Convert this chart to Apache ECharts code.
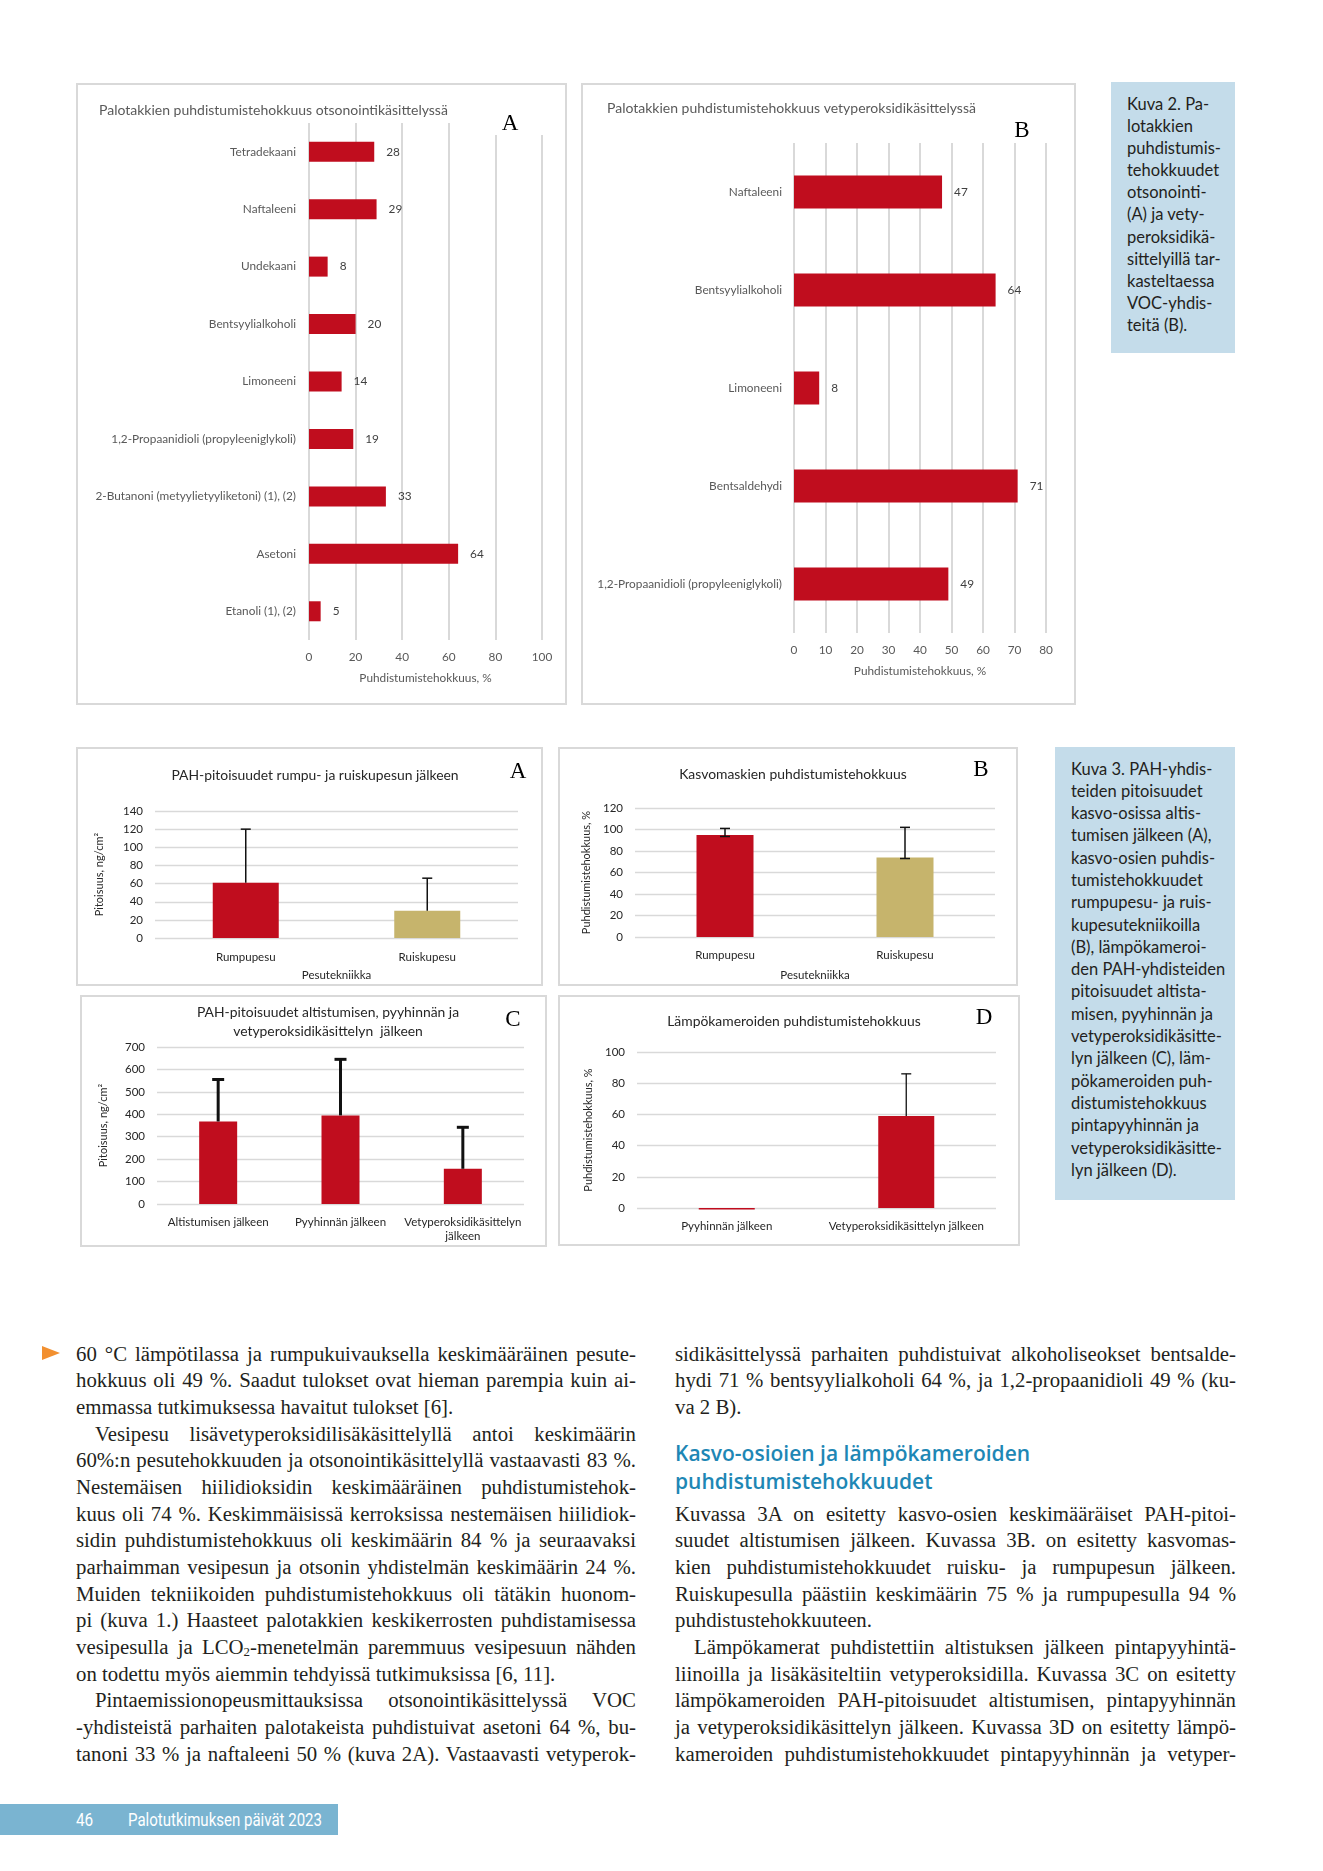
<!DOCTYPE html>
<html>
<head>
<meta charset="utf-8">
<script src="https://cdn.jsdelivr.net/npm/echarts@6/dist/echarts.min.js"></script>
<style>
html,body{margin:0;padding:0;background:#fff;}
#page{position:relative;width:1323px;height:1871px;overflow:hidden;background:#fff;}
.panel{position:absolute;box-sizing:border-box;border:2px solid #d9d9d9;}
.chart{position:absolute;}
.cap{position:absolute;background:#c4dcea;}
.capt{position:absolute;font-family:Lato,'Open Sans',sans-serif;color:#231f20;font-size:16.5px;white-space:nowrap;}
.col{position:absolute;font-family:'Liberation Serif',serif;font-size:20.8px;color:#231f20;line-height:26.67px;}
.col div{height:26.67px;}
.j{text-align:justify;text-align-last:justify;}
.l{text-align:left;text-align-last:left;}
.ind{text-indent:19px;}
.head{position:absolute;font-family:'Open Sans',sans-serif;font-weight:600;font-size:21px;line-height:28px;color:#1e87b5;white-space:nowrap;}
.arrow{position:absolute;width:0;height:0;border-left:18px solid #f29030;border-top:7.5px solid transparent;border-bottom:7.5px solid transparent;}
.foot{position:absolute;left:0;top:1804px;width:338px;height:31px;background:#7ab4d1;}
.foot span{position:absolute;top:0;line-height:31px;color:#fff;font-family:Roboto,sans-serif;font-size:18px;white-space:nowrap;transform-origin:0 50%;}
</style>
</head>
<body>
<div id="page">
  <div class="panel" style="left:76px;top:83px;width:491px;height:622px;"></div>
  <div class="chart" id="c2a" style="left:76px;top:83px;width:491px;height:622px;"></div>
  <div class="panel" style="left:581px;top:83px;width:495px;height:622px;"></div>
  <div class="chart" id="c2b" style="left:581px;top:83px;width:495px;height:622px;"></div>

  <div class="cap" style="left:1111px;top:82px;width:124px;height:271px;"></div>
  <div class="capt" style="left:1127px;top:93px;line-height:22.1px;">Kuva 2. Pa-<br>lotakkien<br>puhdistumis-<br>tehokkuudet<br>otsonointi-<br>(A) ja vety-<br>peroksidikä-<br>sittelyillä tar-<br>kasteltaessa<br>VOC-yhdis-<br>teitä (B).</div>

  <div class="panel" style="left:76px;top:747px;width:467px;height:239px;"></div>
  <div class="chart" id="c3a" style="left:76px;top:747px;width:467px;height:239px;"></div>
  <div class="panel" style="left:558px;top:747px;width:460px;height:239px;"></div>
  <div class="chart" id="c3b" style="left:558px;top:747px;width:460px;height:239px;"></div>
  <div class="panel" style="left:80px;top:995px;width:467px;height:252px;"></div>
  <div class="chart" id="c3c" style="left:80px;top:995px;width:467px;height:252px;"></div>
  <div class="panel" style="left:558px;top:995px;width:462px;height:251px;"></div>
  <div class="chart" id="c3d" style="left:558px;top:995px;width:462px;height:251px;"></div>

  <div class="cap" style="left:1055px;top:747px;width:180px;height:453px;"></div>
  <div class="capt" style="left:1071px;top:757.5px;line-height:22.3px;">Kuva 3. PAH-yhdis-<br>teiden pitoisuudet<br>kasvo-osissa altis-<br>tumisen jälkeen (A),<br>kasvo-osien puhdis-<br>tumistehokkuudet<br>rumpupesu- ja ruis-<br>kupesutekniikoilla<br>(B), lämpökameroi-<br>den PAH-yhdisteiden<br>pitoisuudet altista-<br>misen, pyyhinnän ja<br>vetyperoksidikäsitte-<br>lyn jälkeen (C), läm-<br>pökameroiden puh-<br>distumistehokkuus<br>pintapyyhinnän ja<br>vetyperoksidikäsitte-<br>lyn jälkeen (D).</div>

  <div class="arrow" style="left:42px;top:1346px;"></div>
  <div class="col" style="left:76px;top:1340.7px;width:560px;">
    <div class="j">60 °C lämpötilassa ja rumpukuivauksella keskimääräinen pesute-</div>
    <div class="j">hokkuus oli 49 %. Saadut tulokset ovat hieman parempia kuin ai-</div>
    <div class="l">emmassa tutkimuksessa havaitut tulokset [6].</div>
    <div class="j ind">Vesipesu lisävetyperoksidilisäkäsittelyllä antoi keskimäärin</div>
    <div class="j">60%:n pesutehokkuuden ja otsonointikäsittelyllä vastaavasti 83 %.</div>
    <div class="j">Nestemäisen hiilidioksidin keskimääräinen puhdistumistehok-</div>
    <div class="j">kuus oli 74 %. Keskimmäisissä kerroksissa nestemäisen hiilidiok-</div>
    <div class="j">sidin puhdistumistehokkuus oli keskimäärin 84 % ja seuraavaksi</div>
    <div class="j">parhaimman vesipesun ja otsonin yhdistelmän keskimäärin 24 %.</div>
    <div class="j">Muiden tekniikoiden puhdistumistehokkuus oli tätäkin huonom-</div>
    <div class="j">pi (kuva 1.) Haasteet palotakkien keskikerrosten puhdistamisessa</div>
    <div class="j">vesipesulla ja LCO<span style="font-size:0.62em;vertical-align:-0.12em;">2</span>-menetelmän paremmuus vesipesuun nähden</div>
    <div class="l">on todettu myös aiemmin tehdyissä tutkimuksissa [6, 11].</div>
    <div class="j ind">Pintaemissionopeusmittauksissa otsonointikäsittelyssä VOC</div>
    <div class="j">-yhdisteistä parhaiten palotakeista puhdistuivat asetoni 64 %, bu-</div>
    <div class="j">tanoni 33 % ja naftaleeni 50 % (kuva 2A). Vastaavasti vetyperok-</div>
  </div>

  <div class="col" style="left:675px;top:1340.7px;width:561px;">
    <div class="j">sidikäsittelyssä parhaiten puhdistuivat alkoholiseokset bentsalde-</div>
    <div class="j">hydi 71 % bentsyylialkoholi 64 %, ja 1,2-propaanidioli 49 % (ku-</div>
    <div class="l">va 2 B).</div>
  </div>
  <div class="head" style="left:675px;top:1439px;">Kasvo-osioien ja lämpökameroiden<br>puhdistumistehokkuudet</div>
  <div class="col" style="left:675px;top:1500.7px;width:561px;">
    <div class="j">Kuvassa 3A on esitetty kasvo-osien keskimääräiset PAH-pitoi-</div>
    <div class="j">suudet altistumisen jälkeen. Kuvassa 3B. on esitetty kasvomas-</div>
    <div class="j">kien puhdistumistehokkuudet ruisku- ja rumpupesun jälkeen.</div>
    <div class="j">Ruiskupesulla päästiin keskimäärin 75 % ja rumpupesulla 94 %</div>
    <div class="l">puhdistustehokkuuteen.</div>
    <div class="j ind">Lämpökamerat puhdistettiin altistuksen jälkeen pintapyyhintä-</div>
    <div class="j">liinoilla ja lisäkäsiteltiin vetyperoksidilla. Kuvassa 3C on esitetty</div>
    <div class="j">lämpökameroiden PAH-pitoisuudet altistumisen, pintapyyhinnän</div>
    <div class="j">ja vetyperoksidikäsittelyn jälkeen. Kuvassa 3D on esitetty lämpö-</div>
    <div class="j">kameroiden puhdistumistehokkuudet pintapyyhinnän ja vetyper-</div>
  </div>

  <div class="foot"><span id="f46" style="left:76px;">46</span><span id="fname" style="left:128px;">Palotutkimuksen päivät 2023</span></div>
</div>

<script>
// ---------- DATA ----------
const voc2aCategories = ['Tetradekaani','Naftaleeni','Undekaani','Bentsyylialkoholi','Limoneeni','1,2-Propaanidioli (propyleeniglykoli)','2-Butanoni (metyylietyyliketoni) (1), (2)','Asetoni','Etanoli (1), (2)'];
const voc2aValues = [28, 29, 8, 20, 14, 19, 33, 64, 5];
const voc2aTicks = [0, 20, 40, 60, 80, 100];

const voc2bCategories = ['Naftaleeni','Bentsyylialkoholi','Limoneeni','Bentsaldehydi','1,2-Propaanidioli (propyleeniglykoli)'];
const voc2bValues = [47, 64, 8, 71, 49];
const voc2bTicks = [0, 10, 20, 30, 40, 50, 60, 70, 80];

const pesuCategories = ['Rumpupesu','Ruiskupesu'];
const pah3aValues = [61, 30];
const pah3aErrHigh = [120, 66];
const pah3aTicks = [0, 20, 40, 60, 80, 100, 120, 140];

const mask3bValues = [95, 74];
const mask3bErrLow = [93.5, 73];
const mask3bErrHigh = [101, 102];
const mask3bTicks = [0, 20, 40, 60, 80, 100, 120];

const pah3cCategories = ['Altistumisen jälkeen','Pyyhinnän jälkeen','Vetyperoksidikäsittelyn\njälkeen'];
const pah3cValues = [368, 395, 157];
const pah3cErrHigh = [555, 645, 342];
const pah3cTicks = [0, 100, 200, 300, 400, 500, 600, 700];

const cam3dCategories = ['Pyyhinnän jälkeen','Vetyperoksidikäsittelyn jälkeen'];
const cam3dValues = [-1, 59];
const cam3dErrLow = [null, 59];
const cam3dErrHigh = [null, 86];
const cam3dTicks = [0, 20, 40, 60, 80, 100];

// ---------- STYLE ----------
const RED = '#c00d1e';
const GOLD = '#c6b46c';
const FONT = 'Lato';
const GRID_COLOR = '#d9d9d9';

// footer condensed text width
(function(){
  const el = document.getElementById('fname');
  const w = el.getBoundingClientRect().width;
  if (w > 0) el.style.transform = 'scaleX(' + (194 / w) + ')';
  const e2 = document.getElementById('f46');
  e2.style.transform = 'scaleX(0.85)';
})();

function rng(t){ return {min:t[0], max:t[t.length-1], interval:t[1]-t[0]}; }

function letter(ch, x, y){
  return {type:'text', x:x, y:y, z:101, style:{text:ch, font:'23px "Liberation Serif", serif', fill:'#000', textAlign:'center', textVerticalAlign:'middle'}};
}

function errSeries(lows, highs, cap, lw, bothCaps){
  const data = [];
  for (let i = 0; i < highs.length; i++) if (highs[i] != null) data.push([i, lows[i], highs[i]]);
  return {
    type:'custom', z:5, silent:true,
    encode:{x:0, y:[1,2]},
    data:data,
    renderItem:function(params, api){
      const i = api.value(0);
      const p1 = api.coord([i, api.value(1)]);
      const p2 = api.coord([i, api.value(2)]);
      const st = {stroke:'#111', lineWidth:lw};
      const ch = [
        {type:'line', shape:{x1:p1[0], y1:p1[1], x2:p2[0], y2:p2[1]}, style:st},
        {type:'line', shape:{x1:p2[0]-cap, y1:p2[1], x2:p2[0]+cap, y2:p2[1]}, style:st}
      ];
      if (bothCaps) ch.push({type:'line', shape:{x1:p1[0]-cap, y1:p1[1], x2:p1[0]+cap, y2:p1[1]}, style:st});
      return {type:'group', children:ch};
    }
  };
}

function hbarOption(o){
  const r = rng(o.ticks);
  return {
    animation:false,
    textStyle:{fontFamily:FONT},
    title:{text:o.title, left:o.titleX, top:o.titleY, textStyle:{fontFamily:FONT, fontSize:14, fontWeight:'normal', color:'#595959'}},
    grid:o.grid,
    xAxis:{type:'value', min:r.min, max:r.max, interval:r.interval,
      axisLine:{show:false}, axisTick:{show:false},
      splitLine:{lineStyle:{color:GRID_COLOR, width:2}},
      axisLabel:{color:'#595959', fontSize:11.8, margin:11},
      name:'Puhdistumistehokkuus, %', nameLocation:'middle', nameGap:32,
      nameTextStyle:{color:'#595959', fontSize:11.8}},
    yAxis:{type:'category', inverse:true, data:o.cats,
      axisLine:{show:false}, axisTick:{show:false},
      axisLabel:{color:'#595959', fontSize:11.8, margin:o.labelMargin}},
    series:[{type:'bar', data:o.values, barWidth:o.barWidth, itemStyle:{color:RED},
      label:{show:true, position:'right', distance:12, color:'#404040', fontSize:11.8}}],
    graphic:o.graphic
  };
}

function vbarOption(o){
  const r = rng(o.ticks);
  const series = [{type:'bar', data:o.values.map(function(v,i){ return {value:v, itemStyle:{color:o.colors[i]}}; }),
    barWidth:o.barWidth, clip:false}];
  if (o.err) series.push(o.err);
  const opt = {
    animation:false,
    textStyle:{fontFamily:FONT},
    title:{text:o.title, left:o.titleX, top:o.titleY, textAlign:'center',
      textStyle:{fontFamily:FONT, fontSize:13.9, fontWeight:'normal', color:'#262626', lineHeight:19}},
    grid:o.grid,
    xAxis:{type:'category', data:o.cats, axisLine:{show:false}, axisTick:{show:false},
      axisLabel:{color:'#262626', fontSize:11.5, margin:o.xMargin, lineHeight:14, interval:0}},
    yAxis:{type:'value', min:r.min, max:r.max, interval:r.interval,
      axisLine:{show:false}, axisTick:{show:false},
      splitLine:{lineStyle:{color:GRID_COLOR, width:1.3}},
      axisLabel:{color:'#262626', fontSize:11.5, margin:12},
      name:o.yName, nameLocation:'middle', nameGap:o.yNameGap, nameRotate:90,
      nameTextStyle:{color:'#262626', fontSize:11}},
    series:series,
    graphic:[letter(o.letter, o.letterX, o.letterY)]
  };
  if (o.xName){
    opt.xAxis.name = o.xName; opt.xAxis.nameLocation = 'middle'; opt.xAxis.nameGap = o.xNameGap;
    opt.xAxis.nameTextStyle = {color:'#262626', fontSize:11.5};
  }
  return opt;
}

// ---------- CHARTS ----------
echarts.init(document.getElementById('c2a')).setOption(hbarOption({
  title:'Palotakkien puhdistumistehokkuus otsonointikäsittelyssä', titleX:18, titleY:15,
  grid:{left:233, right:25, top:40, bottom:65},
  ticks:voc2aTicks, cats:voc2aCategories, values:voc2aValues, barWidth:20, labelMargin:13,
  graphic:[
    {type:'rect', z:100, shape:{x:405, y:20, width:75, height:32}, style:{fill:'#fff'}},
    letter('A', 434, 41)
  ]
}));

echarts.init(document.getElementById('c2b')).setOption(hbarOption({
  title:'Palotakkien puhdistumistehokkuus vetyperoksidikäsittelyssä', titleX:21, titleY:13,
  grid:{left:213, right:30, top:60, bottom:72},
  ticks:voc2bTicks, cats:voc2bCategories, values:voc2bValues, barWidth:33, labelMargin:12,
  graphic:[letter('B', 441, 48)]
}));

echarts.init(document.getElementById('c3a')).setOption(vbarOption({
  title:'PAH-pitoisuudet rumpu- ja ruiskupesun jälkeen', titleX:234, titleY:14,
  grid:{left:79, right:25, top:64, bottom:44},
  ticks:pah3aTicks, cats:pesuCategories, values:pah3aValues, colors:[RED, GOLD], barWidth:66,
  xMargin:12, xName:'Pesutekniikka', xNameGap:29,
  yName:'Pitoisuus, ng/cm²', yNameGap:50,
  err:errSeries(pah3aValues, pah3aErrHigh, 5, 1.5, false),
  letter:'A', letterX:442, letterY:25
}));

echarts.init(document.getElementById('c3b')).setOption(vbarOption({
  title:'Kasvomaskien puhdistumistehokkuus', titleX:230, titleY:13,
  grid:{left:77, right:23, top:61, bottom:49},
  ticks:mask3bTicks, cats:pesuCategories, values:mask3bValues, colors:[RED, GOLD], barWidth:57,
  xMargin:11, xName:'Pesutekniikka', xNameGap:32,
  yName:'Puhdistumistehokkuus, %', yNameGap:31,
  err:errSeries(mask3bErrLow, mask3bErrHigh, 5, 1.5, true),
  letter:'B', letterX:423, letterY:23
}));

echarts.init(document.getElementById('c3c')).setOption(vbarOption({
  title:'PAH-pitoisuudet altistumisen, pyyhinnän ja\nvetyperoksidikäsittelyn  jälkeen', titleX:243, titleY:3,
  grid:{left:77, right:23, top:52, bottom:43},
  ticks:pah3cTicks, cats:pah3cCategories, values:pah3cValues, colors:[RED, RED, RED], barWidth:38,
  xMargin:11,
  yName:'Pitoisuus, ng/cm²', yNameGap:48,
  err:errSeries(pah3cValues, pah3cErrHigh, 6, 3, false),
  letter:'C', letterX:433, letterY:25
}));

echarts.init(document.getElementById('c3d')).setOption(vbarOption({
  title:'Lämpökameroiden puhdistumistehokkuus', titleX:231, titleY:12,
  grid:{left:79, right:24, top:57, bottom:38},
  ticks:cam3dTicks, cats:cam3dCategories, values:cam3dValues, colors:[RED, RED], barWidth:56,
  xMargin:11,
  yName:'Puhdistumistehokkuus, %', yNameGap:32,
  err:errSeries(cam3dErrLow, cam3dErrHigh, 5, 1.3, false),
  letter:'D', letterX:426, letterY:23
}));
</script>
</body>
</html>
